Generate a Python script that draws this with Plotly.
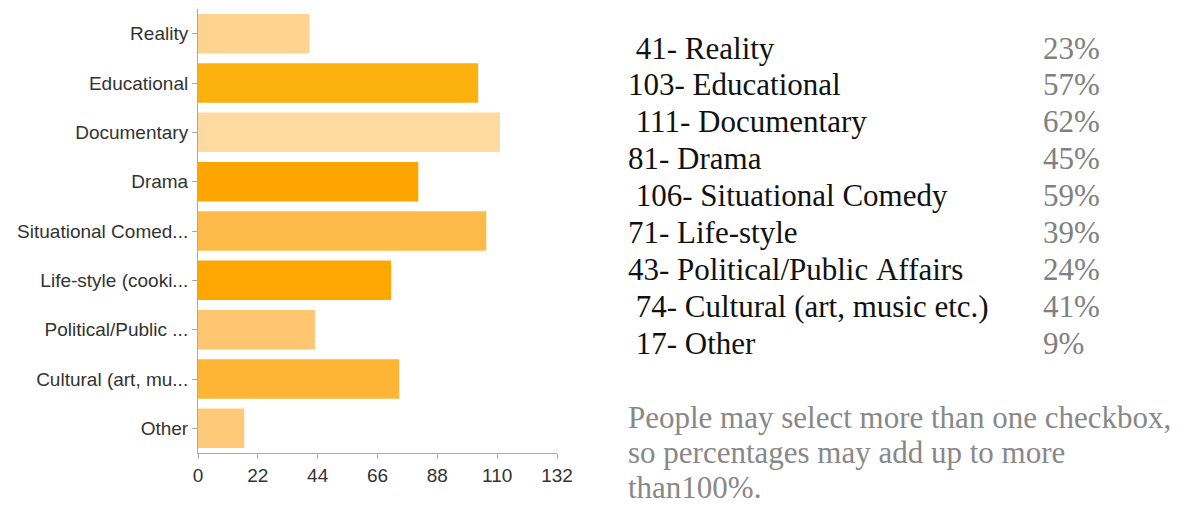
import plotly.graph_objects as go

# survey answers (count of respondents per genre)
genres = ["Reality", "Educational", "Documentary", "Drama", "Situational Comedy",
          "Life-style (cooking etc.)", "Political/Public Affairs",
          "Cultural (art, music etc.)", "Other"]
tick_labels = ["Reality", "Educational", "Documentary", "Drama", "Situational Comed...",
               "Life-style (cooki...", "Political/Public ...", "Cultural (art, mu...", "Other"]
counts = [41, 103, 111, 81, 106, 71, 43, 74, 17]
bar_colors = ["#FED48F", "#FDB10F", "#FED9A0", "#FEA500", "#FEBB4A",
              "#FEA700", "#FEC670", "#FEB535", "#FEC979"]

x_ticks = [0, 22, 44, 66, 88, 110, 132]

# text table on the right
row_labels = [" 41- Reality", "103- Educational", " 111- Documentary", "81- Drama",
              " 106- Situational Comedy", "71- Life-style", "43- Political/Public Affairs",
              " 74- Cultural (art, music etc.)", " 17- Other"]
row_pcts = ["23%", "57%", "62%", "45%", "59%", "39%", "24%", "41%", "9%"]
note_lines = ["People may select more than one checkbox,",
              "so percentages may add up to more",
              "than100%."]

OFF = 8  # page body margin
W, H = 1190 - OFF, 506 - OFF


def px_x(v):
    return (v - OFF) / W


def px_y(v):
    return 1 - (v - OFF) / H


fig = go.Figure(go.Bar(
    x=counts, y=genres, orientation="h",
    marker=dict(color=bar_colors, line=dict(width=0)),
    hoverinfo="x+y",
))

fig.update_layout(
    width=W, height=H,
    margin=dict(l=0, r=0, t=0, b=0),
    paper_bgcolor="white", plot_bgcolor="white",
    bargap=0.2,
    showlegend=False,
    font=dict(family="Liberation Sans, Arial, sans-serif", size=19, color="#333"),
)
fig.update_xaxes(
    domain=[px_x(198), px_x(557)], range=[0, 132],
    tickvals=x_ticks, ticks="outside", ticklen=5, tickcolor="#aaa",
    showline=True, linecolor="#aaa", linewidth=1,
    showgrid=False, zeroline=False, automargin=False,
    tickfont=dict(size=19, color="#333"),
)
fig.update_yaxes(
    domain=[px_y(453), px_y(9)],
    autorange="reversed",
    tickvals=genres, ticktext=tick_labels,
    ticks="outside", ticklen=5, tickcolor="#aaa",
    showline=True, linecolor="#aaa", linewidth=1,
    showgrid=False, zeroline=False, automargin=False,
    tickfont=dict(size=19, color="#333"),
)

serif = "Liberation Serif, Times New Roman, serif"
for i, (lab, pct) in enumerate(zip(row_labels, row_pcts)):
    y_px = 48 + i * 36.9
    fig.add_annotation(x=px_x(626), y=px_y(y_px), xref="paper", yref="paper",
                       text=lab.replace(" ", "&nbsp;"), showarrow=False,
                       xanchor="left", yanchor="middle",
                       font=dict(family=serif, size=31, color="#111"))
    fig.add_annotation(x=px_x(1041), y=px_y(y_px), xref="paper", yref="paper",
                       text=pct, showarrow=False,
                       xanchor="left", yanchor="middle",
                       font=dict(family=serif, size=31, color="#808080"))

for i, line in enumerate(note_lines):
    y_px = 417 + i * 35
    fig.add_annotation(x=px_x(626), y=px_y(y_px), xref="paper", yref="paper",
                       text=line, showarrow=False,
                       xanchor="left", yanchor="middle",
                       font=dict(family=serif, size=31, color="#888"))

fig.write_html("out.html")
